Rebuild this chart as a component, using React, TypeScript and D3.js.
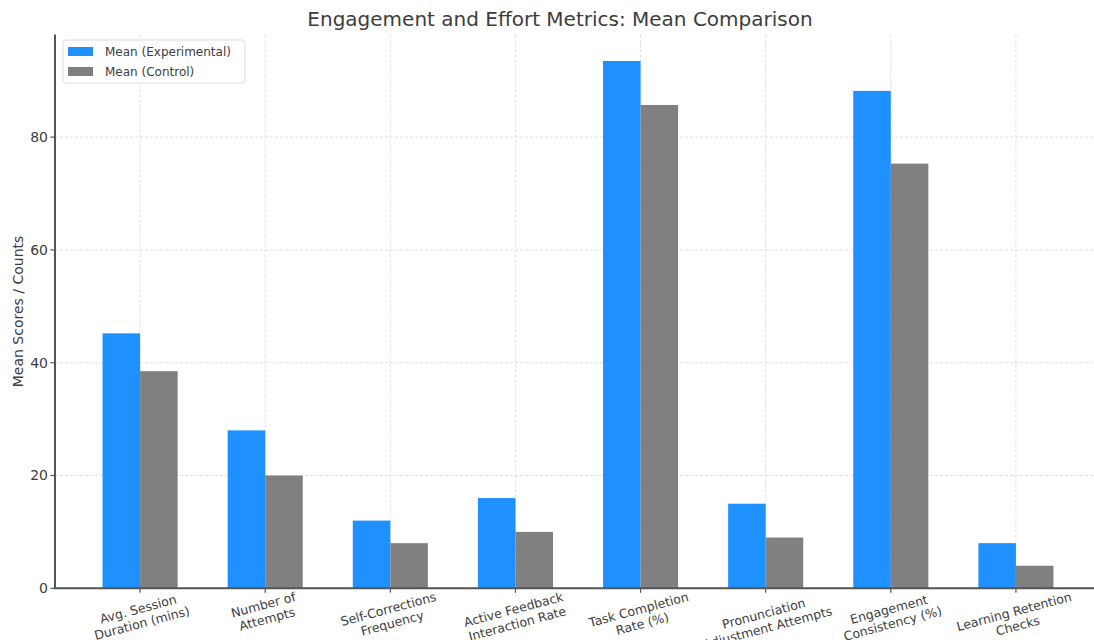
import React, { useEffect, useRef } from "react";
import * as d3 from "d3";

// Metric names (line breaks mark the wrapped tick labels)
const categories = [
  "Avg. Session\nDuration (mins)",
  "Number of\nAttempts",
  "Self-Corrections\nFrequency",
  "Active Feedback\nInteraction Rate",
  "Task Completion\nRate (%)",
  "Pronunciation\nAdjustment Attempts",
  "Engagement\nConsistency (%)",
  "Learning Retention\nChecks",
];

const experimentalMeans = [45.2, 28, 12, 16, 93.5, 15, 88.2, 8];
const controlMeans = [38.5, 20, 8, 10, 85.7, 9, 75.3, 4];

const seriesNames = ["Mean (Experimental)", "Mean (Control)"];
const seriesColors = ["#1E90FF", "#808080"];
const yTicks = [0, 20, 40, 60, 80];

const TITLE = "Engagement and Effort Metrics: Mean Comparison";
const Y_LABEL = "Mean Scores / Counts";

const W = 1094;
const H = 640;
const FONT = "'DejaVu Sans', sans-serif";
const TEXT = "#3d3d3d";

export default function App() {
  const ref = useRef<SVGSVGElement | null>(null);

  useEffect(() => {
    const svg = d3.select(ref.current);
    svg.selectAll("*").remove();

    const left = 55;
    const right = 1101;
    const top = 34.6;
    const bottom = 588.3;
    const barW = 0.3;
    const n = categories.length;
    const maxVal = d3.max([...experimentalMeans, ...controlMeans]) as number;

    const pad = (n - 1 + 2 * barW) * 0.05;
    const x = d3
      .scaleLinear()
      .domain([-barW - pad, n - 1 + barW + pad])
      .range([left, right]);
    const y = d3
      .scaleLinear()
      .domain([0, maxVal * 1.05])
      .range([bottom, top]);

    // grid
    const grid = svg.append("g");
    grid
      .selectAll("line.v")
      .data(d3.range(n))
      .join("line")
      .attr("x1", (i) => x(i))
      .attr("x2", (i) => x(i))
      .attr("y1", top)
      .attr("y2", bottom)
      .attr("stroke", "#e0e0e0")
      .attr("stroke-width", 1)
      .attr("stroke-dasharray", "3,2");
    grid
      .selectAll("line.h")
      .data(yTicks)
      .join("line")
      .attr("x1", left)
      .attr("x2", right)
      .attr("y1", (d) => y(d))
      .attr("y2", (d) => y(d))
      .attr("stroke", "#e0e0e0")
      .attr("stroke-width", 1)
      .attr("stroke-dasharray", "3,2");

    // bars
    const series = [experimentalMeans, controlMeans];
    series.forEach((vals, s) => {
      svg
        .append("g")
        .selectAll("rect")
        .data(vals)
        .join("rect")
        .attr("x", (_, i) => x(i - barW + s * barW))
        .attr("width", (_, i) => x(i + s * barW) - x(i - barW + s * barW))
        .attr("y", (d) => y(d))
        .attr("height", (d) => bottom - y(d))
        .attr("fill", seriesColors[s]);
    });

    // spines
    svg
      .append("line")
      .attr("x1", left)
      .attr("x2", left)
      .attr("y1", top)
      .attr("y2", bottom)
      .attr("stroke", "#555")
      .attr("stroke-width", 2);
    svg
      .append("line")
      .attr("x1", left - 1)
      .attr("x2", right)
      .attr("y1", bottom)
      .attr("y2", bottom)
      .attr("stroke", "#555")
      .attr("stroke-width", 2);

    // y ticks
    const yAx = svg.append("g");
    yTicks.forEach((t) => {
      yAx
        .append("line")
        .attr("x1", left - 4.5)
        .attr("x2", left)
        .attr("y1", y(t))
        .attr("y2", y(t))
        .attr("stroke", "#555")
        .attr("stroke-width", 1.2);
      yAx
        .append("text")
        .attr("x", left - 7)
        .attr("y", y(t))
        .attr("dy", "0.35em")
        .attr("text-anchor", "end")
        .attr("font-family", FONT)
        .attr("font-size", 14)
        .attr("fill", TEXT)
        .text(String(t));
    });

    // x ticks and rotated labels
    const fs = 12.5;
    const lh = fs * 1.17;
    const theta = (15 * Math.PI) / 180;
    categories.forEach((c, i) => {
      const cx = x(i);
      svg
        .append("line")
        .attr("x1", cx)
        .attr("x2", cx)
        .attr("y1", bottom)
        .attr("y2", bottom + 4.5)
        .attr("stroke", "#555")
        .attr("stroke-width", 1.2);
      const lines = c.split("\n");
      const g = svg.append("g");
      const texts = lines.map((ln, k) =>
        g
          .append("text")
          .attr("x", 0)
          .attr("y", (k - (lines.length - 1) / 2) * lh)
          .attr("dy", "0.35em")
          .attr("text-anchor", "middle")
          .attr("font-family", FONT)
          .attr("font-size", fs)
          .attr("fill", TEXT)
          .text(ln)
      );
      const w = d3.max(texts, (t) => (t.node() as SVGTextElement).getComputedTextLength()) as number;
      const h = lines.length * lh;
      const bh = w * Math.sin(theta) + h * Math.cos(theta);
      const topY = bottom + 1;
      g.attr("transform", `translate(${cx},${topY + bh / 2}) rotate(-15)`);
    });

    // y label
    svg
      .append("text")
      .attr("transform", `translate(23,${(top + bottom) / 2}) rotate(-90)`)
      .attr("text-anchor", "middle")
      .attr("font-family", FONT)
      .attr("font-size", 14)
      .attr("fill", TEXT)
      .text(Y_LABEL);

    // title
    svg
      .append("text")
      .attr("x", 560)
      .attr("y", 26)
      .attr("text-anchor", "middle")
      .attr("font-family", FONT)
      .attr("font-size", 20)
      .attr("fill", TEXT)
      .text(TITLE);

    // legend
    const lg = svg.append("g");
    lg.append("rect")
      .attr("x", 63)
      .attr("y", 40)
      .attr("width", 182)
      .attr("height", 43)
      .attr("rx", 3)
      .attr("fill", "white")
      .attr("fill-opacity", 0.85)
      .attr("stroke", "#dddddd");
    seriesNames.forEach((name, s) => {
      lg.append("rect")
        .attr("x", 68)
        .attr("y", 47 + s * 20)
        .attr("width", 25)
        .attr("height", 9)
        .attr("fill", seriesColors[s]);
      lg.append("text")
        .attr("x", 105)
        .attr("y", 51.5 + s * 20)
        .attr("dy", "0.35em")
        .attr("font-family", FONT)
        .attr("font-size", 12)
        .attr("fill", TEXT)
        .text(name);
    });
  }, []);

  return (
    <svg
      ref={ref}
      width={W}
      height={H}
      style={{ position: "absolute", left: 0, top: 0, background: "white" }}
    />
  );
}
